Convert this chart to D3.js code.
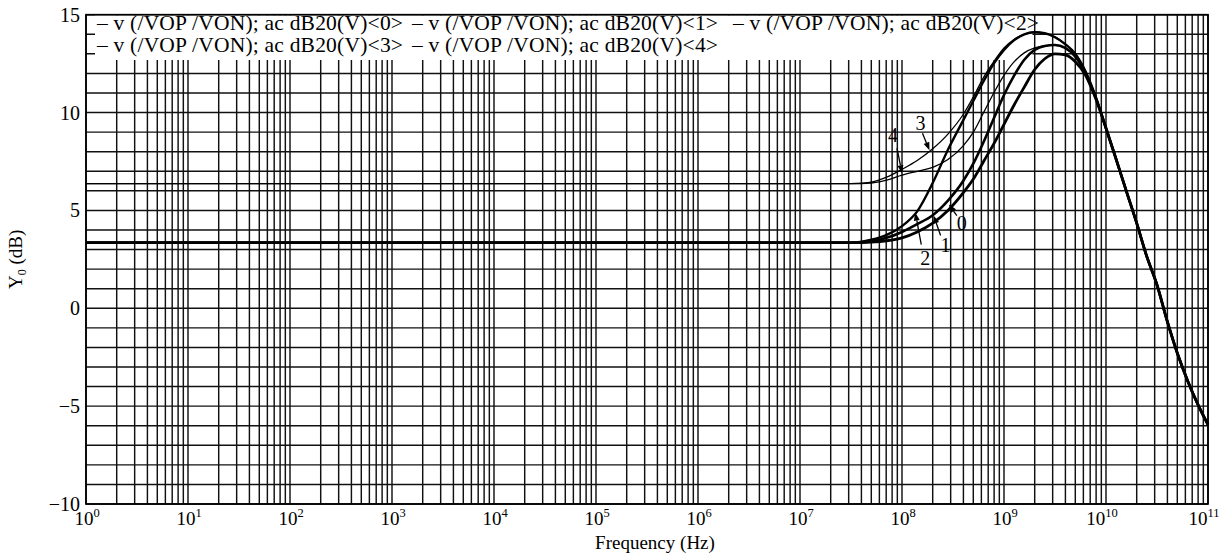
<!DOCTYPE html>
<html><head><meta charset="utf-8">
<script src="https://cdn.jsdelivr.net/npm/d3@7"></script>
<style>
body{margin:0;background:#fff;}
svg{display:block;}
text{font-family:"Liberation Serif","Times New Roman",serif;fill:#000;}
</style>
</head><body>
<svg id="chart" width="1225" height="555"></svg>
<script>
// ---------- data ----------
const freqs = [1, 3.16e7, 5.01e7, 7.08e7, 1e8, 1.41e8, 2e8, 2.82e8, 3.98e8, 5.01e8, 6.31e8, 7.94e8,
  1e9, 1.26e9, 1.58e9, 2e9, 2.51e9, 3.16e9, 3.98e9, 5.01e9, 6.31e9, 7.94e9,
  1e10, 1.26e10, 1.58e10, 2e10, 2.51e10, 3.16e10, 3.98e10, 5.01e10, 6.31e10, 7.94e10, 1e11];
const curve0 = [3.35, 3.35, 3.38, 3.45, 3.6, 3.9, 4.35, 5.0, 5.9, 6.6, 7.5, 8.4,
  9.4, 10.4, 11.3, 12.2, 12.75, 13.0, 12.95, 12.6, 11.9, 10.7,
  9.2, 7.6, 6.0, 4.35, 2.65, 1.2, -0.65, -2.3, -3.7, -4.9, -5.95];
const curve1 = [3.35, 3.35, 3.42, 3.6, 3.9, 4.3, 4.75, 5.5, 6.5, 7.4, 8.5, 9.7,
  10.9, 11.9, 12.7, 13.2, 13.4, 13.45, 13.3, 12.85, 12.0, 10.75,
  9.2, 7.6, 6.0, 4.35, 2.65, 1.2, -0.65, -2.3, -3.7, -4.9, -5.95];
const curve2 = [3.35, 3.35, 3.5, 3.75, 4.2, 4.95, 6.4, 8.1, 9.6, 10.6, 11.6, 12.5,
  13.2, 13.7, 14.0, 14.1, 14.05, 13.85, 13.5, 13.0, 12.1, 10.8,
  9.2, 7.6, 6.0, 4.35, 2.65, 1.2, -0.65, -2.3, -3.7, -4.9, -5.95];
const curve3 = [6.37, 6.37, 6.45, 6.7, 7.1, 7.55, 8.15, 8.9, 9.9, 10.8, 11.8, 12.6,
  13.3, 13.75, 14.0, 14.12, 14.05, 13.87, 13.5, 13.0, 12.1, 10.8,
  9.2, 7.6, 6.0, 4.35, 2.65, 1.2, -0.65, -2.3, -3.7, -4.9, -5.95];
const curve4 = [6.37, 6.37, 6.4, 6.55, 6.8, 7.0, 7.2, 7.6, 8.3, 9.0, 10.0, 11.0,
  11.9, 12.6, 13.05, 13.3, 13.42, 13.45, 13.3, 12.85, 12.0, 10.75,
  9.2, 7.6, 6.0, 4.35, 2.65, 1.2, -0.65, -2.3, -3.7, -4.9, -5.95];
const seriesValues = [curve0, curve1, curve2, curve3, curve4];
const seriesNames = ["v (/VOP /VON); ac dB20(V)<0>", "v (/VOP /VON); ac dB20(V)<1>",
  "v (/VOP /VON); ac dB20(V)<2>", "v (/VOP /VON); ac dB20(V)<3>", "v (/VOP /VON); ac dB20(V)<4>"];
const yTicks = [-10, -5, 0, 5, 10, 15];
const xDecades = [0, 1, 2, 3, 4, 5, 6, 7, 8, 9, 10, 11];
const annoLabels = ["3", "4", "2", "1", "0"];
const annoFreqs = [1.86e8, 1e8, 1.35e8, 2.04e8, 2.88e8];
const annoValues = [8.07, 6.9, 4.89, 4.74, 5.3];

// ---------- layout ----------
const X0 = 86, X1 = 1208, YT = 14.7, YB = 504;
const widths = [2.8, 2.6, 2.4, 1.3, 1.3];
const annoOffsets = [ // label dx,dy ; arrow start dx,dy relative to tip
  {lx:-9, ly:-20, ax:-7, ay:-17},
  {lx:-9, ly:-31, ax:-5, ay:-25},
  {lx:10, ly:52, ax:6, ay:32},
  {lx:12, ly:36, ax:7, ay:20},
  {lx:13, ly:25, ax:8, ay:11}
];
const legendPos = [{x:97,y:30},{x:412,y:30},{x:733,y:30},{x:97,y:52},{x:412,y:52}];

const svg = d3.select("#chart");
const x = d3.scaleLog().domain([1, 1e11]).range([X0, X1]);
const y = d3.scaleLinear().domain([-10, 15]).range([YB, YT]);

const grid = svg.append("g").attr("stroke", "#111").attr("stroke-width", 1.45);
// vertical log grid
const vlines = [];
xDecades.slice(0, -1).forEach(k => { for (let m = 1; m <= 9; m++) vlines.push(m * Math.pow(10, k)); });
vlines.push(1e11);
grid.selectAll("line.v").data(vlines).join("line")
  .attr("x1", d => x(d)).attr("x2", d => x(d)).attr("y1", YT).attr("y2", YB);
// horizontal grid every 1 dB
grid.selectAll("line.h").data(d3.range(-10, 16)).join("line")
  .attr("x1", X0).attr("x2", X1).attr("y1", d => y(d)).attr("y2", d => y(d));

// legend background hides grid
const legendRight = x(1.9e9);
svg.append("rect").attr("x", 95).attr("y", YT + 0.8).attr("width", legendRight - 95).attr("height", 60 - YT - 0.8)
  .attr("fill", "#fff");

// frame
svg.append("rect").attr("x", X0).attr("y", YT).attr("width", X1 - X0).attr("height", YB - YT)
  .attr("fill", "none").attr("stroke", "#000").attr("stroke-width", 1.7);

// curves
const line = d3.line().x(d => x(d[0])).y(d => y(d[1])).curve(d3.curveMonotoneX);
seriesValues.forEach((vals, i) => {
  svg.append("path").datum(freqs.map((f, j) => [f, vals[j]]))
    .attr("d", line).attr("fill", "none").attr("stroke", "#000")
    .attr("stroke-width", widths[i]).attr("stroke-linejoin", "round");
});

// annotations
annoLabels.forEach((lab, i) => {
  const tx = x(annoFreqs[i]), ty = y(annoValues[i]);
  const o = annoOffsets[i];
  const sx = tx + o.ax, sy = ty + o.ay;
  const ang = Math.atan2(ty - sy, tx - sx);
  const L = 8, W = 3;
  const bx = tx - L * Math.cos(ang), by = ty - L * Math.sin(ang);
  svg.append("line").attr("x1", sx).attr("y1", sy).attr("x2", bx).attr("y2", by)
    .attr("stroke", "#000").attr("stroke-width", 1.3);
  svg.append("path").attr("d", `M${tx},${ty}L${bx + W * Math.sin(ang)},${by - W * Math.cos(ang)}L${bx - W * Math.sin(ang)},${by + W * Math.cos(ang)}Z`)
    .attr("fill", "#000");
  svg.append("text").attr("x", tx + o.lx).attr("y", ty + o.ly).attr("text-anchor", "middle")
    .attr("font-size", 20).text(lab);
});

// legend
seriesNames.forEach((nm, i) => {
  const p = legendPos[i];
  svg.append("text").attr("x", p.x).attr("y", p.y).attr("font-size", 21.5)
    .attr("textLength", 306).attr("lengthAdjust", "spacing")
    .text("\u2013 " + nm);
});

// y tick labels
svg.selectAll("text.yt").data(yTicks).join("text")
  .attr("x", 80).attr("y", d => y(d) + 7).attr("text-anchor", "end").attr("font-size", 20)
  .text(d => d < 0 ? "\u2212" + Math.abs(d) : String(d));

// x tick labels
xDecades.forEach(k => {
  const t = svg.append("text").attr("x", x(Math.pow(10, k)) + (k >= 10 ? -4 : 1)).attr("y", 525)
    .attr("text-anchor", "middle").attr("font-size", 19);
  t.append("tspan").text("10");
  t.append("tspan").attr("dy", -8).attr("font-size", 12.5).text(String(k));
});

// axis titles
svg.append("text").attr("x", (X0 + X1) / 2 + 8).attr("y", 549).attr("text-anchor", "middle")
  .attr("font-size", 19).text("Frequency (Hz)");
const yl = svg.append("text").attr("transform", `translate(22,${(YT + YB) / 2}) rotate(-90)`)
  .attr("text-anchor", "middle").attr("font-size", 19);
yl.append("tspan").text("Y");
yl.append("tspan").attr("dy", 4).attr("font-size", 12).text("0");
yl.append("tspan").attr("dy", -4).text(" (dB)");
</script>
</body></html>
